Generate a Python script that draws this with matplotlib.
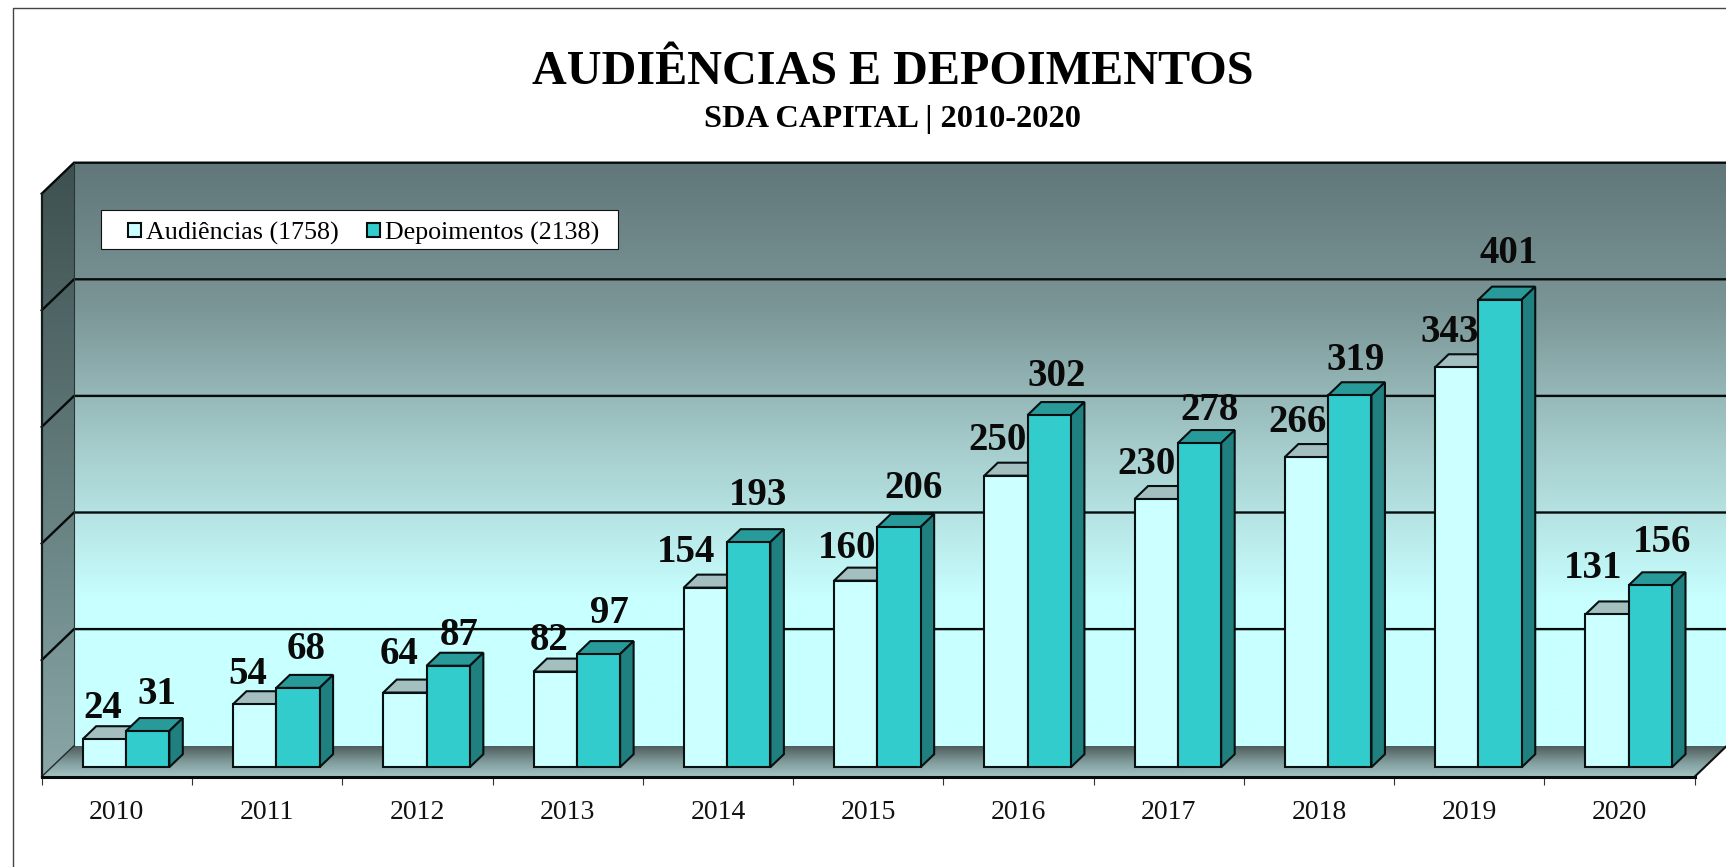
import numpy as np
import matplotlib
matplotlib.use("Agg")
import matplotlib.pyplot as plt
from matplotlib.colors import LinearSegmentedColormap
from matplotlib.lines import Line2D
from matplotlib.patches import Polygon, Rectangle

years = ["2010", "2011", "2012", "2013", "2014", "2015", "2016", "2017", "2018", "2019", "2020"]
audiencias = [24, 54, 64, 82, 154, 160, 250, 230, 266, 343, 131]
depoimentos = [31, 68, 87, 97, 193, 206, 302, 278, 319, 401, 156]
grid_values = [0, 100, 200, 300, 400, 500]

# hand placed labels in the original, pixels away from the bar top centre
aud_nudge_x = [-2, -7, -6, -6, -19, -9, -8, -10, -9, -7, -14]
aud_nudge_y = [31, 30, 38, 31, 35, 32, 35, 35, 35, 35, 46]
dep_nudge_x = [9, 8, 11, 11, 9, 15, 7, 10, 6, 9, 12]
dep_nudge_y = [37, 38, 30, 41, 47, 39, 39, 33, 35, 46, 43]

W, H = 1726, 867
left_px, floor_px = 41.7, 776.7
step_px, unit_px = 150.27, 1.166

plt.rcParams["font.family"] = ["Liberation Serif", "DejaVu Serif"]

fig = plt.figure(figsize=(W / 100, H / 100), dpi=100)
ax = fig.add_axes([left_px / W, (H - floor_px) / H, 11 * step_px / W, 500 * unit_px / H])
ax.patch.set_visible(False)

# depth of the fake 3d box, converted to data units
dx, dy = 32.3 / step_px, 31 / unit_px
bar_w = 43.3 / step_px
bar_x0 = 41 / step_px
bar_base = 9.5 / unit_px
cap_x, cap_y = 13.5 / step_px, 13 / unit_px


def gradient(points, stops, y_low, y_high, z):
    cmap = LinearSegmentedColormap.from_list("g", stops)
    col = np.linspace(0, 1, 256).reshape(-1, 1)
    xs = [p[0] for p in points]
    im = ax.imshow(col, cmap=cmap, origin="lower", aspect="auto", zorder=z,
                   extent=(min(xs), max(xs), y_low, y_high))
    poly = Polygon(points, closed=True, transform=ax.transData)
    im.set_clip_box(fig.bbox)
    im.set_clip_path(poly)


# back wall, side wall, floor
gradient([(dx, dy), (11 + dx, dy), (11 + dx, dy + 500), (dx, dy + 500)],
         ["#C8FFFF", "#C8FFFF", "#A8CFCF", "#7B9697", "#61777A"], dy, dy + 500, 1)
gradient([(0, 0), (dx, dy), (dx, dy + 500), (0, 500)],
         ["#8AA6A6", "#6F8A8A", "#566C6C", "#3E5050"], 0, dy + 500, 1)
gradient([(0, 0), (11, 0), (11 + dx, dy), (dx, dy)],
         ["#A6C6C6", "#7F9A9A", "#4F5C5C"], 0, dy, 1)

for g in grid_values[1:]:
    ax.plot([0, dx, 11 + dx], [g, g + dy, g + dy], color="#050A0A", lw=1.7,
            zorder=2, clip_on=False, solid_joinstyle="miter")
ax.plot([0, dx], [0, dy], color="#222A2A", lw=1.0, zorder=2, clip_on=False)
ax.plot([0, 0], [0, 500], color="#151C1C", lw=1.6, zorder=2, clip_on=False)
ax.plot([dx, dx], [dy, dy + 500], color="#2A3535", lw=0.8, zorder=2, clip_on=False)
ax.plot([11, 11 + dx], [0, dy], color="#101010", lw=1.5, zorder=2, clip_on=False)

x = np.arange(len(years))


def draw_series(xs, values, front, top, side, name, z):
    bars = ax.bar(xs, values, bar_w, bottom=bar_base, align="edge", color=front,
                  edgecolor="#061010", linewidth=1.5, zorder=z + 1, label=name)
    for xi, v in zip(xs, values):
        y1 = bar_base + v
        ax.add_patch(Polygon([(xi, y1), (xi + bar_w, y1), (xi + bar_w + cap_x, y1 + cap_y),
                              (xi + cap_x, y1 + cap_y)], facecolor=top,
                             edgecolor="#061010", lw=1.5, zorder=z))
        ax.add_patch(Polygon([(xi + bar_w, bar_base), (xi + bar_w + cap_x, bar_base + cap_y),
                              (xi + bar_w + cap_x, y1 + cap_y), (xi + bar_w, y1)],
                             facecolor=side, edgecolor="#061010", lw=1.5, zorder=z))
    return bars


h1 = draw_series(x + bar_x0, audiencias, "#CCFFFF", "#A3BFBF", "#7FA0A0", "Audiências (1758)", 4)
h2 = draw_series(x + bar_x0 + bar_w, depoimentos, "#33CCCC", "#299A9A", "#208080", "Depoimentos (2138)", 6)

for i in x:
    ax.annotate(str(audiencias[i]), (i + bar_x0 + bar_w / 2, bar_base + audiencias[i]),
                xytext=(aud_nudge_x[i], aud_nudge_y[i]), textcoords="offset pixels",
                ha="center", va="center", fontsize=28, fontweight="bold", color="#0A0A0A",
                zorder=3, annotation_clip=False)
    ax.annotate(str(depoimentos[i]), (i + bar_x0 + 1.5 * bar_w, bar_base + depoimentos[i]),
                xytext=(dep_nudge_x[i], dep_nudge_y[i]), textcoords="offset pixels",
                ha="center", va="center", fontsize=28, fontweight="bold", color="#0A0A0A",
                zorder=3, annotation_clip=False)

ax.set_xlim(0, 11)
ax.set_ylim(0, 500)
for s in ["left", "right", "top"]:
    ax.spines[s].set_visible(False)
ax.spines["bottom"].set_linewidth(2.2)
ax.spines["bottom"].set_color("#050A0A")
ax.set_yticks([])
ax.set_xticks(np.arange(12))
ax.set_xticklabels([])
ax.set_xticks(x + 0.5, years, minor=True)
ax.tick_params(axis="x", which="major", length=6, width=0.8, color="#333333")
ax.tick_params(axis="x", which="minor", length=0, pad=17, labelsize=20, labelcolor="#111111")

# legend box drawn apart so the padding can follow the original
box_left, box_w = (101.3 - left_px) / step_px, 516.3 / step_px
box_top, box_h = (floor_px - 210) / unit_px, 39 / unit_px
ax.add_patch(Rectangle((box_left, box_top - box_h), box_w, box_h, facecolor="white",
                       edgecolor="#111111", lw=0.8, zorder=9, clip_on=False))
leg = ax.legend(handles=[h1, h2], ncols=2, loc="upper left", frameon=False, fontsize=18.7,
                handlelength=0.5, handleheight=0.5, handletextpad=0.2, columnspacing=1.08,
                borderpad=0, borderaxespad=0,
                bbox_to_anchor=((128 - left_px) / (11 * step_px), (floor_px - 221.5) / (500 * unit_px)))
leg.set_zorder(10)

fig.text(893 / W, 1 - 72 / H, "AUDIÊNCIAS E DEPOIMENTOS", ha="center", va="center",
         fontsize=34.7, fontweight="bold", color="black")
fig.text(892 / W, 1 - 119 / H, "SDA CAPITAL | 2010-2020", ha="center", va="center",
         fontsize=23.3, fontweight="bold", color="black")

# outer frame of the pasted picture, only left and top are visible
fig.add_artist(Line2D([13 / W, 13 / W, 1], [0, 1 - 7.5 / H, 1 - 7.5 / H], color="#444444", lw=1))

fig.savefig("out.png", dpi=100)
